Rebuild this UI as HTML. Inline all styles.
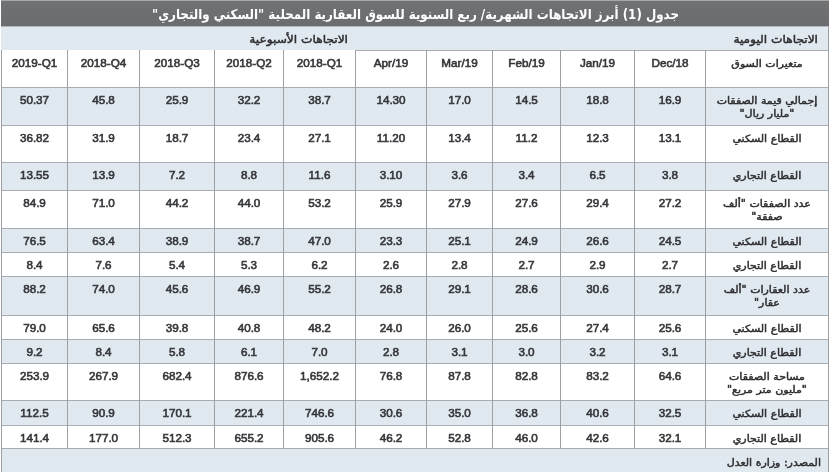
<!DOCTYPE html>
<html lang="ar"><head><meta charset="utf-8"><title>جدول (1)</title>
<style>
html,body{margin:0;padding:0;background:#fff}
body{width:830px;height:472px;position:relative;overflow:hidden;font-family:"Liberation Sans","DejaVu Sans",sans-serif;color:#2b2b2b}
div{position:absolute;box-sizing:border-box;white-space:nowrap}
.bg{background:#e1e9f0}
.v{width:1px;background:#9c9fa3}
.h{height:1px;background:#a9acb0}
.n{font-size:11.7px;line-height:13px;text-align:center;color:#34363a;font-weight:normal;-webkit-text-stroke:0.6px #34363a}
.a{font-family:"DejaVu Sans","Liberation Sans",sans-serif;font-size:11px;line-height:15px;text-align:center;direction:rtl;color:#2d2d2f;-webkit-text-stroke:0.5px #2d2d2f;transform:scaleY(0.9);transform-origin:50% 0}
.t{font-family:"DejaVu Sans","Liberation Sans",sans-serif;direction:rtl;color:#fff;font-weight:bold;font-size:11.86px;line-height:25px;text-align:center;transform:scaleY(1.15);transform-origin:50% 50%}
.s{font-family:"DejaVu Sans","Liberation Sans",sans-serif;direction:rtl;font-size:12.2px;line-height:24px;text-align:right;color:#2d2d2f;-webkit-text-stroke:0.5px #2d2d2f;transform:scaleY(0.9);transform-origin:50% 50%}

</style></head><body>
<div style="left:1px;top:0;width:828px;height:1px;background:#a6a7a9"></div>
<div style="left:1px;top:1px;width:828px;height:25px;background:linear-gradient(#707173,#6a6c6f)"></div>
<div class="t" style="left:1px;top:2px;width:829px">جدول (1) أبرز الاتجاهات الشهرية/ ربع السنوية للسوق العقارية المحلية "السكني والتجاري"</div>
<div style="left:1px;top:26px;width:828px;height:1px;background:#b4b6ba;z-index:1"></div>
<div class="bg" style="left:1px;top:26px;width:828px;height:24px"></div>
<div class="s" style="left:355px;top:27px;width:473px;padding-right:10px">الاتجاهات اليومية</div>
<div class="s" style="left:1px;top:27px;width:354px;padding-right:7px">الاتجاهات الأسبوعية</div>
<div class="bg" style="left:1px;top:87px;width:828px;height:38px"></div>
<div class="bg" style="left:1px;top:162px;width:828px;height:28px"></div>
<div class="bg" style="left:1px;top:228px;width:828px;height:24px"></div>
<div class="bg" style="left:1px;top:276px;width:828px;height:39px"></div>
<div class="bg" style="left:1px;top:339px;width:828px;height:24px"></div>
<div class="bg" style="left:1px;top:400px;width:828px;height:25px"></div>
<div class="bg" style="left:1px;top:448px;width:828px;height:24px"></div>
<div class="h" style="left:355px;top:50px;width:474px"></div>
<div class="h" style="left:1px;top:87px;width:828px"></div>
<div class="h" style="left:1px;top:125px;width:828px"></div>
<div class="h" style="left:1px;top:162px;width:828px"></div>
<div class="h" style="left:1px;top:190px;width:828px"></div>
<div class="h" style="left:1px;top:228px;width:828px"></div>
<div class="h" style="left:1px;top:252px;width:828px"></div>
<div class="h" style="left:1px;top:276px;width:828px"></div>
<div class="h" style="left:1px;top:315px;width:828px"></div>
<div class="h" style="left:1px;top:339px;width:828px"></div>
<div class="h" style="left:1px;top:363px;width:828px"></div>
<div class="h" style="left:1px;top:400px;width:828px"></div>
<div class="h" style="left:1px;top:425px;width:828px"></div>
<div class="h" style="left:1px;top:448px;width:828px"></div>
<div class="v" style="left:1px;top:50px;height:422px"></div>
<div class="v" style="left:67px;top:50px;height:398px"></div>
<div class="v" style="left:139px;top:50px;height:398px"></div>
<div class="v" style="left:214px;top:50px;height:398px"></div>
<div class="v" style="left:283px;top:50px;height:398px"></div>
<div class="v" style="left:355px;top:50px;height:398px"></div>
<div class="v" style="left:426px;top:50px;height:398px"></div>
<div class="v" style="left:492px;top:50px;height:398px"></div>
<div class="v" style="left:560px;top:50px;height:398px"></div>
<div class="v" style="left:634px;top:50px;height:398px"></div>
<div class="v" style="left:705px;top:50px;height:398px"></div>
<div class="v" style="left:828px;top:26px;height:446px"></div>
<div class="n" style="left:2px;top:56px;width:65px">2019-Q1</div>
<div class="n" style="left:68px;top:56px;width:71px">2018-Q4</div>
<div class="n" style="left:140px;top:56px;width:74px">2018-Q3</div>
<div class="n" style="left:215px;top:56px;width:68px">2018-Q2</div>
<div class="n" style="left:284px;top:56px;width:71px">2018-Q1</div>
<div class="n" style="left:356px;top:56px;width:70px">Apr/19</div>
<div class="n" style="left:427px;top:56px;width:65px">Mar/19</div>
<div class="n" style="left:493px;top:56px;width:67px">Feb/19</div>
<div class="n" style="left:561px;top:56px;width:73px">Jan/19</div>
<div class="n" style="left:635px;top:56px;width:70px">Dec/18</div>
<div class="a" style="left:706px;top:56.7px;width:122px">متغيرات السوق</div>
<div class="n" style="left:2px;top:93px;width:65px">50.37</div>
<div class="n" style="left:68px;top:93px;width:71px">45.8</div>
<div class="n" style="left:140px;top:93px;width:74px">25.9</div>
<div class="n" style="left:215px;top:93px;width:68px">32.2</div>
<div class="n" style="left:284px;top:93px;width:71px">38.7</div>
<div class="n" style="left:356px;top:93px;width:70px">14.30</div>
<div class="n" style="left:427px;top:93px;width:65px">17.0</div>
<div class="n" style="left:493px;top:93px;width:67px">14.5</div>
<div class="n" style="left:561px;top:93px;width:73px">18.8</div>
<div class="n" style="left:635px;top:93px;width:70px">16.9</div>
<div class="a" style="left:706px;top:93.7px;width:122px">إجمالي قيمة الصفقات<br>"مليار ريال"</div>
<div class="n" style="left:2px;top:131px;width:65px">36.82</div>
<div class="n" style="left:68px;top:131px;width:71px">31.9</div>
<div class="n" style="left:140px;top:131px;width:74px">18.7</div>
<div class="n" style="left:215px;top:131px;width:68px">23.4</div>
<div class="n" style="left:284px;top:131px;width:71px">27.1</div>
<div class="n" style="left:356px;top:131px;width:70px">11.20</div>
<div class="n" style="left:427px;top:131px;width:65px">13.4</div>
<div class="n" style="left:493px;top:131px;width:67px">11.2</div>
<div class="n" style="left:561px;top:131px;width:73px">12.3</div>
<div class="n" style="left:635px;top:131px;width:70px">13.1</div>
<div class="a" style="left:706px;top:131.7px;width:122px">القطاع السكني</div>
<div class="n" style="left:2px;top:168px;width:65px">13.55</div>
<div class="n" style="left:68px;top:168px;width:71px">13.9</div>
<div class="n" style="left:140px;top:168px;width:74px">7.2</div>
<div class="n" style="left:215px;top:168px;width:68px">8.8</div>
<div class="n" style="left:284px;top:168px;width:71px">11.6</div>
<div class="n" style="left:356px;top:168px;width:70px">3.10</div>
<div class="n" style="left:427px;top:168px;width:65px">3.6</div>
<div class="n" style="left:493px;top:168px;width:67px">3.4</div>
<div class="n" style="left:561px;top:168px;width:73px">6.5</div>
<div class="n" style="left:635px;top:168px;width:70px">3.8</div>
<div class="a" style="left:706px;top:168.7px;width:122px">القطاع التجاري</div>
<div class="n" style="left:2px;top:196px;width:65px">84.9</div>
<div class="n" style="left:68px;top:196px;width:71px">71.0</div>
<div class="n" style="left:140px;top:196px;width:74px">44.2</div>
<div class="n" style="left:215px;top:196px;width:68px">44.0</div>
<div class="n" style="left:284px;top:196px;width:71px">53.2</div>
<div class="n" style="left:356px;top:196px;width:70px">25.9</div>
<div class="n" style="left:427px;top:196px;width:65px">27.9</div>
<div class="n" style="left:493px;top:196px;width:67px">27.6</div>
<div class="n" style="left:561px;top:196px;width:73px">29.4</div>
<div class="n" style="left:635px;top:196px;width:70px">27.2</div>
<div class="a" style="left:706px;top:196.7px;width:122px">عدد الصفقات "ألف<br>صفقة"</div>
<div class="n" style="left:2px;top:234px;width:65px">76.5</div>
<div class="n" style="left:68px;top:234px;width:71px">63.4</div>
<div class="n" style="left:140px;top:234px;width:74px">38.9</div>
<div class="n" style="left:215px;top:234px;width:68px">38.7</div>
<div class="n" style="left:284px;top:234px;width:71px">47.0</div>
<div class="n" style="left:356px;top:234px;width:70px">23.3</div>
<div class="n" style="left:427px;top:234px;width:65px">25.1</div>
<div class="n" style="left:493px;top:234px;width:67px">24.9</div>
<div class="n" style="left:561px;top:234px;width:73px">26.6</div>
<div class="n" style="left:635px;top:234px;width:70px">24.5</div>
<div class="a" style="left:706px;top:234.7px;width:122px">القطاع السكني</div>
<div class="n" style="left:2px;top:258px;width:65px">8.4</div>
<div class="n" style="left:68px;top:258px;width:71px">7.6</div>
<div class="n" style="left:140px;top:258px;width:74px">5.4</div>
<div class="n" style="left:215px;top:258px;width:68px">5.3</div>
<div class="n" style="left:284px;top:258px;width:71px">6.2</div>
<div class="n" style="left:356px;top:258px;width:70px">2.6</div>
<div class="n" style="left:427px;top:258px;width:65px">2.8</div>
<div class="n" style="left:493px;top:258px;width:67px">2.7</div>
<div class="n" style="left:561px;top:258px;width:73px">2.9</div>
<div class="n" style="left:635px;top:258px;width:70px">2.7</div>
<div class="a" style="left:706px;top:258.7px;width:122px">القطاع التجاري</div>
<div class="n" style="left:2px;top:282px;width:65px">88.2</div>
<div class="n" style="left:68px;top:282px;width:71px">74.0</div>
<div class="n" style="left:140px;top:282px;width:74px">45.6</div>
<div class="n" style="left:215px;top:282px;width:68px">46.9</div>
<div class="n" style="left:284px;top:282px;width:71px">55.2</div>
<div class="n" style="left:356px;top:282px;width:70px">26.8</div>
<div class="n" style="left:427px;top:282px;width:65px">29.1</div>
<div class="n" style="left:493px;top:282px;width:67px">28.6</div>
<div class="n" style="left:561px;top:282px;width:73px">30.6</div>
<div class="n" style="left:635px;top:282px;width:70px">28.7</div>
<div class="a" style="left:706px;top:282.7px;width:122px">عدد العقارات "ألف<br>عقار"</div>
<div class="n" style="left:2px;top:321px;width:65px">79.0</div>
<div class="n" style="left:68px;top:321px;width:71px">65.6</div>
<div class="n" style="left:140px;top:321px;width:74px">39.8</div>
<div class="n" style="left:215px;top:321px;width:68px">40.8</div>
<div class="n" style="left:284px;top:321px;width:71px">48.2</div>
<div class="n" style="left:356px;top:321px;width:70px">24.0</div>
<div class="n" style="left:427px;top:321px;width:65px">26.0</div>
<div class="n" style="left:493px;top:321px;width:67px">25.6</div>
<div class="n" style="left:561px;top:321px;width:73px">27.4</div>
<div class="n" style="left:635px;top:321px;width:70px">25.6</div>
<div class="a" style="left:706px;top:321.7px;width:122px">القطاع السكني</div>
<div class="n" style="left:2px;top:345px;width:65px">9.2</div>
<div class="n" style="left:68px;top:345px;width:71px">8.4</div>
<div class="n" style="left:140px;top:345px;width:74px">5.8</div>
<div class="n" style="left:215px;top:345px;width:68px">6.1</div>
<div class="n" style="left:284px;top:345px;width:71px">7.0</div>
<div class="n" style="left:356px;top:345px;width:70px">2.8</div>
<div class="n" style="left:427px;top:345px;width:65px">3.1</div>
<div class="n" style="left:493px;top:345px;width:67px">3.0</div>
<div class="n" style="left:561px;top:345px;width:73px">3.2</div>
<div class="n" style="left:635px;top:345px;width:70px">3.1</div>
<div class="a" style="left:706px;top:345.7px;width:122px">القطاع التجاري</div>
<div class="n" style="left:2px;top:369px;width:65px">253.9</div>
<div class="n" style="left:68px;top:369px;width:71px">267.9</div>
<div class="n" style="left:140px;top:369px;width:74px">682.4</div>
<div class="n" style="left:215px;top:369px;width:68px">876.6</div>
<div class="n" style="left:284px;top:369px;width:71px">1,652.2</div>
<div class="n" style="left:356px;top:369px;width:70px">76.8</div>
<div class="n" style="left:427px;top:369px;width:65px">87.8</div>
<div class="n" style="left:493px;top:369px;width:67px">82.8</div>
<div class="n" style="left:561px;top:369px;width:73px">83.2</div>
<div class="n" style="left:635px;top:369px;width:70px">64.6</div>
<div class="a" style="left:706px;top:369.7px;width:122px">مساحة الصفقات<br>"مليون متر مربع"</div>
<div class="n" style="left:2px;top:406px;width:65px">112.5</div>
<div class="n" style="left:68px;top:406px;width:71px">90.9</div>
<div class="n" style="left:140px;top:406px;width:74px">170.1</div>
<div class="n" style="left:215px;top:406px;width:68px">221.4</div>
<div class="n" style="left:284px;top:406px;width:71px">746.6</div>
<div class="n" style="left:356px;top:406px;width:70px">30.6</div>
<div class="n" style="left:427px;top:406px;width:65px">35.0</div>
<div class="n" style="left:493px;top:406px;width:67px">36.8</div>
<div class="n" style="left:561px;top:406px;width:73px">40.6</div>
<div class="n" style="left:635px;top:406px;width:70px">32.5</div>
<div class="a" style="left:706px;top:406.7px;width:122px">القطاع السكني</div>
<div class="n" style="left:2px;top:431px;width:65px">141.4</div>
<div class="n" style="left:68px;top:431px;width:71px">177.0</div>
<div class="n" style="left:140px;top:431px;width:74px">512.3</div>
<div class="n" style="left:215px;top:431px;width:68px">655.2</div>
<div class="n" style="left:284px;top:431px;width:71px">905.6</div>
<div class="n" style="left:356px;top:431px;width:70px">46.2</div>
<div class="n" style="left:427px;top:431px;width:65px">52.8</div>
<div class="n" style="left:493px;top:431px;width:67px">46.0</div>
<div class="n" style="left:561px;top:431px;width:73px">42.6</div>
<div class="n" style="left:635px;top:431px;width:70px">32.1</div>
<div class="a" style="left:706px;top:431.7px;width:122px">القطاع التجاري</div>
<div class="s" style="left:1px;top:450.5px;width:827px;padding-right:7px;font-size:11px">المصدر: وزارة العدل</div>
</body></html>
